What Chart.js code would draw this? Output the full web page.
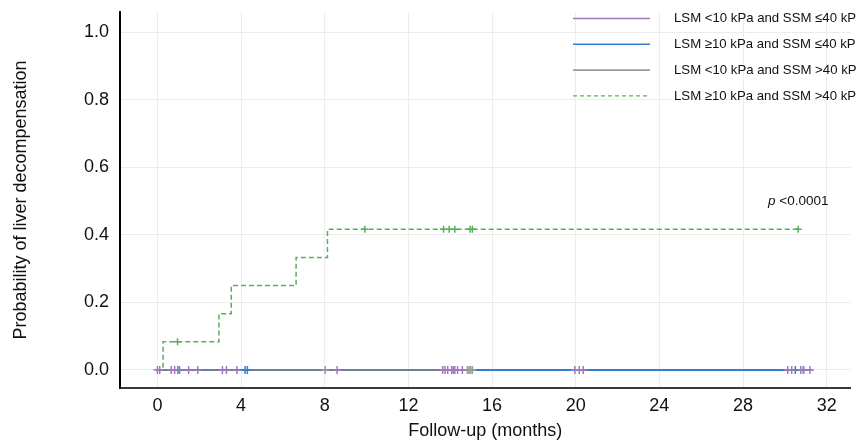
<!DOCTYPE html>
<html>
<head>
<meta charset="utf-8">
<script src="https://cdn.jsdelivr.net/npm/chart.js@4"></script>
<style>
  html, body { margin: 0; padding: 0; background: #fff; }
  #wrap { width: 856px; height: 442px; }
</style>
</head>
<body>
<div id="wrap"><canvas id="kmChart" width="856" height="442"></canvas></div>
<script>
//<![CDATA[

let groupLabels = [
    'LSM <10 kPa and SSM \u226440 kPa',
    'LSM \u226510 kPa and SSM \u226440 kPa',
    'LSM <10 kPa and SSM >40 kPa',
    'LSM \u226510 kPa and SSM >40 kPa'
];
let groupColors = ['#a178bd', '#2f80d0', 'rgba(128, 128, 128, 0.75)', '#5aae5a'];
let legendColors = ['#a178bd', '#2f80d0', '#9a9a9a', '#5aae5a'];

// event times (months) and cumulative probability after each event
let eventTimes = [
    [0],
    [0],
    [0],
    [0, 0.27, 2.94, 3.53, 6.63, 8.13, 30.64]
];
let eventProbs = [
    [0],
    [0],
    [0],
    [0, 0.0833, 0.1667, 0.25, 0.3333, 0.4167, 0.4167]
];
let followEnd = [31.3, 30.9, 15.1, 30.64];

// censored patients (months)
let censorTimes = [
    [0.0, 0.11, 0.66, 0.82, 1.06, 1.49, 1.93, 3.11, 3.3, 3.8, 8.59,
     13.64, 13.75, 13.88, 14.07, 14.15, 14.22, 14.35, 14.58,
     19.96, 20.17, 20.36, 30.14, 30.33, 30.76, 30.88, 31.2],
    [0.98, 4.19, 4.3, 30.5, 30.9],
    [8.02, 14.82, 14.9, 14.98, 15.06],
    [0.96, 9.92, 13.68, 13.95, 14.22, 14.95, 15.06, 30.64]
];

let xTicks = [0, 4, 8, 12, 16, 20, 24, 28, 32];
let yTicks = [0, 0.2, 0.4, 0.6, 0.8, 1.0];
let pValueText = '<0.0001';

function probAt(g, t) {
    let p = 0;
    for (let i = 0; i < eventTimes[g].length; i++) {
        if (eventTimes[g][i] <= t) p = eventProbs[g][i];
    }
    return p;
}

let datasets = [];
let lineOrder = [4, 3, 2, 1];
for (let g = 0; g < 4; g++) {
    let pts = eventTimes[g].map((t, i) => ({x: t, y: eventProbs[g][i]}));
    let last = pts[pts.length - 1];
    if (last.x < followEnd[g]) pts.push({x: followEnd[g], y: last.y});
    datasets.push({
        type: 'line',
        label: groupLabels[g],
        data: pts,
        borderColor: groupColors[g],
        borderWidth: g === 3 ? 1.5 : 2.2,
        borderDash: g === 3 ? [5, 3] : [],
        stepped: 'before',
        pointRadius: 0,
        fill: false,
        order: lineOrder[g]
    });
}
for (let g = 0; g < 4; g++) {
    datasets.push({
        type: 'scatter',
        label: groupLabels[g] + ' censored',
        data: censorTimes[g].map(t => ({x: t, y: probAt(g, t)})),
        pointStyle: 'cross',
        pointRadius: g === 3 ? 3.5 : 4,
        borderColor: legendColors[g],
        backgroundColor: legendColors[g],
        borderWidth: 1.5,
        showLine: false,
        order: 0
    });
}

const fontFamily = '"Liberation Sans", Arial, Helvetica, sans-serif';

const kmExtras = {
    id: 'kmExtras',
    afterDraw(chart) {
        const ctx = chart.ctx;
        ctx.save();
        // legend
        ctx.font = '13.2px ' + fontFamily;
        ctx.textBaseline = 'middle';
        ctx.textAlign = 'left';
        for (let g = 0; g < 4; g++) {
            let y = 18.5 + g * 25.8;
            ctx.beginPath();
            ctx.strokeStyle = legendColors[g];
            ctx.lineWidth = g === 3 ? 1.3 : 1.6;
            ctx.setLineDash(g === 3 ? [4, 3] : []);
            ctx.moveTo(573, y);
            ctx.lineTo(650, y);
            ctx.stroke();
            ctx.setLineDash([]);
            ctx.fillStyle = '#111';
            ctx.fillText(groupLabels[g], 674, y);
        }
        // p value
        const xs = chart.scales.x, ys = chart.scales.y;
        let px = xs.getPixelForValue(29.2);
        let py = ys.getPixelForValue(0.5);
        ctx.font = 'italic 13.5px ' + fontFamily;
        ctx.fillText('p', px, py);
        let w = ctx.measureText('p ').width;
        ctx.font = '13.5px ' + fontFamily;
        ctx.fillText(pValueText, px + w, py);
        ctx.restore();
    }
};

const ctx = document.getElementById('kmChart');
const kmChart = new Chart(ctx, {
    data: { datasets: datasets },
    options: {
        responsive: false,
        animation: false,
        layout: { padding: { top: 12, right: 0, bottom: 0, left: 0 } },
        plugins: {
            legend: { display: false },
            tooltip: { enabled: false }
        },
        scales: {
            x: {
                type: 'linear',
                min: -1.79,
                max: 33.14,
                afterBuildTicks: (scale) => { scale.ticks = xTicks.map(v => ({value: v})); },
                afterFit: (scale) => {
                    scale.height = 54;
                    scale.paddingLeft = 0;
                    scale.paddingRight = 0;
                },
                grid: { color: '#ececec', lineWidth: 1, drawTicks: false },
                border: { display: true, color: '#3a3a3a', width: 2 },
                ticks: {
                    color: '#111',
                    padding: 7,
                    maxRotation: 0,
                    font: { family: fontFamily, size: 18 }
                },
                title: {
                    display: true,
                    text: 'Follow-up (months)',
                    color: '#111',
                    padding: { top: 0, bottom: 0 },
                    font: { family: fontFamily, size: 18 }
                }
            },
            y: {
                type: 'linear',
                min: -0.0533,
                max: 1.06,
                afterBuildTicks: (scale) => { scale.ticks = yTicks.map(v => ({value: v})); },
                afterFit: (scale) => {
                    scale.width = 120;
                    scale.paddingTop = 0;
                    scale.paddingBottom = 0;
                },
                grid: { color: '#ececec', lineWidth: 1, drawTicks: false },
                border: { display: true, color: '#000', width: 2 },
                ticks: {
                    color: '#111',
                    padding: 11,
                    callback: (v) => v.toFixed(1),
                    font: { family: fontFamily, size: 18 }
                },
                title: {
                    display: true,
                    text: 'Probability of liver decompensation',
                    color: '#111',
                    padding: { top: 10, bottom: 0 },
                    font: { family: fontFamily, size: 18 }
                }
            }
        }
    },
    plugins: [kmExtras]
});

// ]]>
</script>
</body>
</html>
